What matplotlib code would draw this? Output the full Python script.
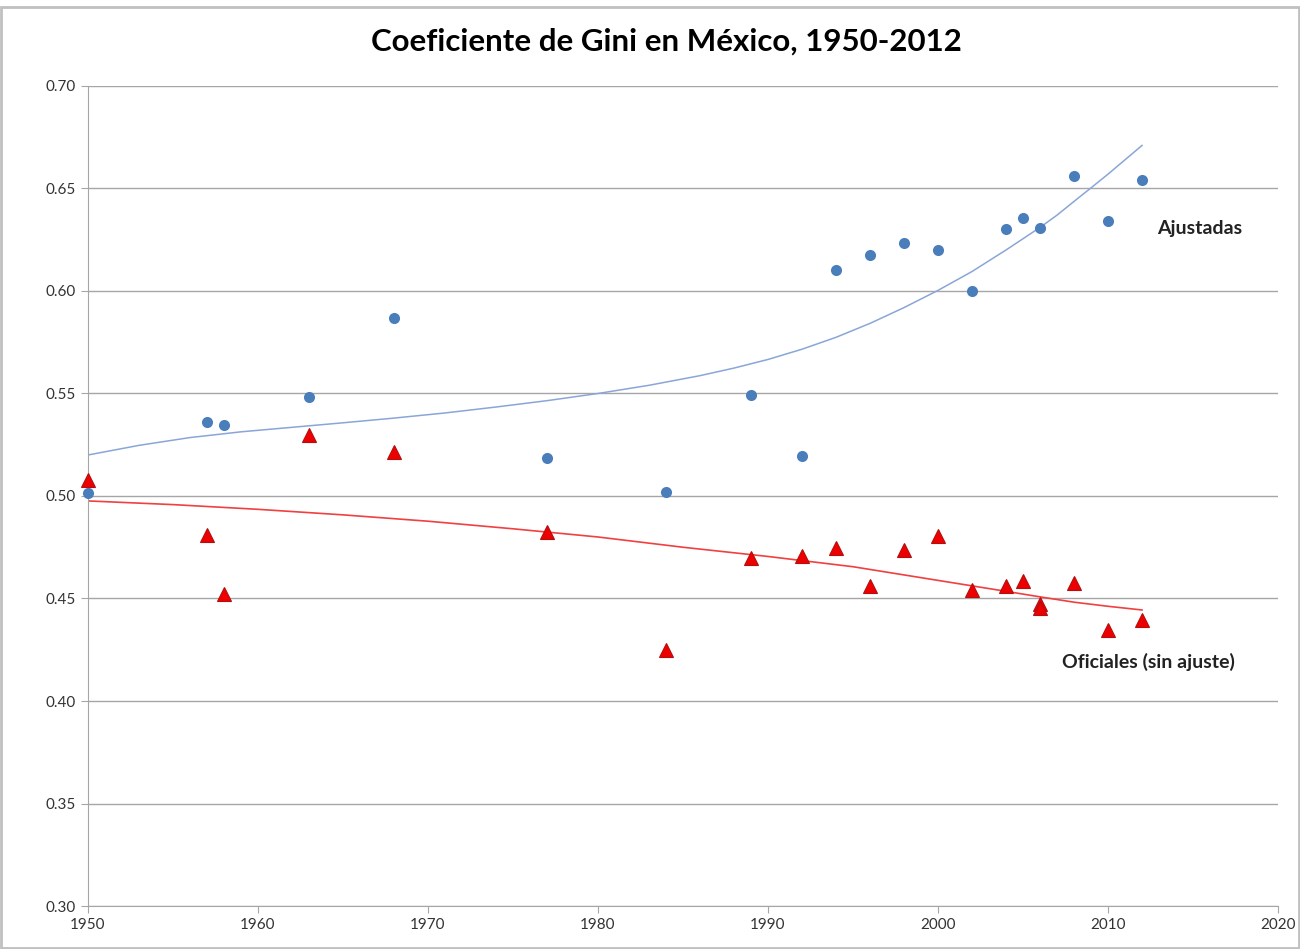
import numpy as np
import matplotlib.pyplot as plt

plt.rcParams['font.family'] = ['Lato', 'DejaVu Sans']

# Datos
years_adj = [1950, 1957, 1958, 1963, 1968, 1977, 1984, 1989, 1992, 1994,
             1996, 1998, 2000, 2002, 2004, 2005, 2006, 2008, 2010, 2012]
gini_adj = [0.5015, 0.536, 0.5346, 0.5483, 0.5868, 0.5185, 0.502, 0.5493, 0.5195, 0.6102,
            0.6176, 0.6234, 0.620, 0.600, 0.6302, 0.6356, 0.6307, 0.6561, 0.6341, 0.6541]

years_off = [1950, 1957, 1958, 1963, 1968, 1977, 1984, 1989, 1992, 1994,
             1996, 1998, 2000, 2002, 2004, 2005, 2006, 2006, 2008, 2010, 2012]
gini_off = [0.5078, 0.481, 0.4522, 0.5298, 0.5215, 0.4824, 0.4249, 0.4698, 0.4707, 0.4746,
            0.4561, 0.4737, 0.4805, 0.4541, 0.456, 0.4585, 0.4475, 0.4455, 0.4576, 0.4346, 0.4395]

# Líneas de tendencia
trend_adj_x = [1950, 1953, 1956, 1959, 1962, 1965, 1968, 1971, 1974, 1977, 1980, 1983,
               1986, 1988, 1990, 1992, 1994, 1996, 1998, 2000, 2002, 2004, 2006,
               2007, 2008, 2009, 2010, 2011, 2012]
trend_adj_y = [0.520, 0.5247, 0.5285, 0.5313, 0.5335, 0.5357, 0.5380, 0.5405, 0.5434, 0.5465,
               0.5500, 0.5540, 0.5587, 0.5624, 0.5666, 0.5716, 0.5774, 0.5842, 0.5919, 0.6003,
               0.6095, 0.6200, 0.6310, 0.6370, 0.6437, 0.6503, 0.6570, 0.6640, 0.6710]

trend_off_x = [1950, 1955, 1960, 1965, 1970, 1975, 1980, 1985, 1990, 1995,
               1998, 2001, 2004, 2006, 2008, 2010, 2012]
trend_off_y = [0.4976, 0.4958, 0.4935, 0.4908, 0.4877, 0.4840, 0.4800, 0.4750, 0.4705, 0.4655,
               0.4615, 0.4575, 0.4535, 0.4508, 0.4482, 0.4462, 0.4444]

fig = plt.figure(figsize=(13, 9.49), dpi=100)
ax = fig.add_axes([0.0677, 0.0453, 0.9154, 0.8641])

ax.plot(trend_adj_x, trend_adj_y, color='#8aa6d6', lw=1.1, zorder=2)
ax.plot(trend_off_x, trend_off_y, color='#f04040', lw=1.2, zorder=2)

ax.plot(years_adj, gini_adj, 'o', color='#4a7ebb', markersize=8, markeredgewidth=0,
        zorder=3, clip_on=False)
ax.plot(years_off, gini_off, '^', color='#ee0000', markeredgecolor='#b01010',
        markersize=10, markeredgewidth=0.8, zorder=3, clip_on=False)

ax.set_xlim(1950, 2020)
ax.set_ylim(0.30, 0.70)
ax.set_xticks(np.arange(1950, 2021, 10))
ax.set_yticks(np.arange(0.30, 0.701, 0.05))
ax.set_yticklabels([f'{v:.2f}' for v in np.arange(0.30, 0.701, 0.05)])
ax.yaxis.grid(True, color='#a6a6a6', lw=1)
ax.set_axisbelow(True)

for s in ['top', 'right']:
    ax.spines[s].set_visible(False)
for s in ['left', 'bottom']:
    ax.spines[s].set_color('#a6a6a6')
ax.tick_params(axis='both', colors='#a6a6a6', labelcolor='#333333', labelsize=11, length=5)

ax.text(2012.9, 0.6307, 'Ajustadas', fontsize=14, fontweight='bold', va='center', color='#222222')
ax.text(2007.3, 0.419, 'Oficiales (sin ajuste)', fontsize=14, fontweight='bold', va='center',
        color='#222222')

fig.suptitle('Coeficiente de Gini en México, 1950-2012', x=0.513, y=0.956, fontsize=22.5,
             fontweight='bold', va='center')

fig.patches.append(plt.Rectangle((0.001, 0.001), 0.998, 0.992, transform=fig.transFigure,
                                 fill=False, edgecolor='#c0c0c0', lw=2))

fig.savefig('out.png', dpi=100)
